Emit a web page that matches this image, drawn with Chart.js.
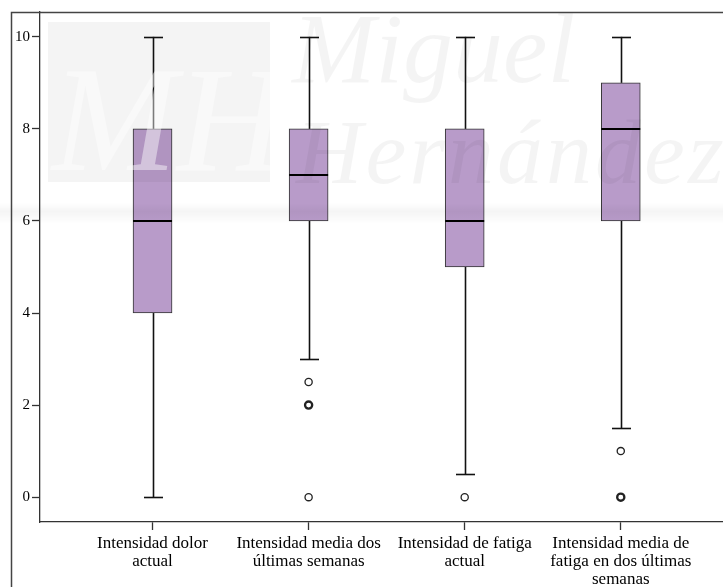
<!DOCTYPE html>
<html>
<head>
<meta charset="utf-8">
<script src="https://cdn.jsdelivr.net/npm/chart.js@4/dist/chart.umd.min.js"></script>
<style>
  html, body { margin: 0; padding: 0; background: #fff; }
  #wrap { width: 723px; height: 587px; position: relative; }
</style>
</head>
<body>
<div id="wrap"><canvas id="c" width="723" height="587"></canvas></div>
<script>
// Category labels (multi-line)
const categories = [
  ["Intensidad dolor", "actual"],
  ["Intensidad media dos", "últimas semanas"],
  ["Intensidad de fatiga", "actual"],
  ["Intensidad media de", "fatiga en dos últimas", "semanas"]
];
// Five-number summaries per variable
const whiskerLow  = [0, 3, 0.5, 1.5];
const q1          = [4, 6, 5, 6];
const median      = [6, 7, 6, 8];
const q3          = [8, 8, 8, 9];
const whiskerHigh = [10, 10, 10, 10];
// Outliers: category index, value, repeated case
const outlierCat   = [1, 1, 1, 2, 3, 3];
const outlierValue = [2.5, 2, 0, 0, 1, 0];
const outlierMulti = [false, true, false, false, false, true];
// Y axis ticks
const yTicks = [0, 2, 4, 6, 8, 10];

const serif = "'Liberation Serif', 'DejaVu Serif', serif";

const boxData = categories.map((_, i) => ({ x: i, y: [q1[i], q3[i]] }));
const outlierData = outlierCat.map((c, i) => ({ x: c, y: outlierValue[i] }));

// Whiskers and caps behind the boxes, medians on top
const whiskerPlugin = {
  id: 'whiskers',
  beforeDatasetsDraw(chart) {
    const { ctx, scales: { x, y } } = chart;
    ctx.save();
    ctx.strokeStyle = '#111';
    ctx.lineWidth = 1.6;
    categories.forEach((_, i) => {
      const cx = Math.round(x.getPixelForValue(i)) + 0.5;
      const capHalf = 9.5;
      [[whiskerLow[i], q1[i]], [q3[i], whiskerHigh[i]]].forEach(([a, b]) => {
        ctx.beginPath();
        ctx.moveTo(cx, y.getPixelForValue(a));
        ctx.lineTo(cx, y.getPixelForValue(b));
        ctx.stroke();
      });
      [whiskerLow[i], whiskerHigh[i]].forEach(v => {
        const py = Math.round(y.getPixelForValue(v)) + 0.5;
        ctx.beginPath();
        ctx.moveTo(cx - capHalf, py);
        ctx.lineTo(cx + capHalf, py);
        ctx.stroke();
      });
    });
    ctx.restore();
  },
  afterDatasetsDraw(chart) {
    const { ctx, scales: { x, y } } = chart;
    ctx.save();
    ctx.strokeStyle = '#000';
    ctx.lineWidth = 2.2;
    categories.forEach((_, i) => {
      const cx = x.getPixelForValue(i);
      const py = Math.round(y.getPixelForValue(median[i]));
      ctx.beginPath();
      ctx.moveTo(cx - 19.5, py);
      ctx.lineTo(cx + 19.5, py);
      ctx.stroke();
    });
    ctx.restore();
  }
};

// Background watermark and frame lines
const decorPlugin = {
  id: 'decor',
  afterDraw(chart) {
    const { ctx } = chart;
    ctx.save();
    // light horizontal band
    const g = ctx.createLinearGradient(0, 203, 0, 224);
    g.addColorStop(0, 'rgba(0,0,0,0)');
    g.addColorStop(0.4, 'rgba(0,0,0,0.04)');
    g.addColorStop(1, 'rgba(0,0,0,0)');
    ctx.fillStyle = g;
    ctx.fillRect(0, 203, 723, 21);
    // logo block
    ctx.fillStyle = 'rgba(0,0,0,0.045)';
    ctx.fillRect(48, 22, 222, 160);
    ctx.font = "italic 150px " + serif;
    ctx.fillStyle = 'rgba(255,255,255,0.45)';
    ctx.textBaseline = 'alphabetic';
    ctx.fillText('MH', 52, 170);
    // wordmark
    ctx.fillStyle = 'rgba(0,0,0,0.045)';
    ctx.font = "italic 100px " + serif;
    ctx.fillText('Miguel', 292, 82);
    ctx.font = "italic 92px " + serif;
    ctx.letterSpacing = '3px';
    ctx.fillText('Hernández', 296, 183);
    ctx.letterSpacing = '0px';
    // frame
    ctx.strokeStyle = '#444';
    ctx.lineWidth = 1.5;
    ctx.beginPath();
    ctx.moveTo(11.5, 587);
    ctx.lineTo(11.5, 12.5);
    ctx.lineTo(723, 12.5);
    ctx.stroke();
    ctx.restore();
  }
};

new Chart(document.getElementById('c'), {
  data: {
    datasets: [
      {
        type: 'bar',
        data: boxData,
        backgroundColor: '#b89bc9',
        borderColor: '#333',
        borderWidth: 1,
        borderSkipped: false,
        barThickness: 39
      },
      {
        type: 'scatter',
        data: outlierData,
        pointStyle: 'circle',
        pointRadius: 3.6,
        backgroundColor: '#fff',
        borderColor: '#222',
        pointBorderWidth: outlierMulti.map(m => m ? 2.3 : 1.3)
      }
    ]
  },
  options: {
    responsive: false,
    animation: false,
    devicePixelRatio: 1,
    layout: { autoPadding: false, padding: { top: 12, left: 0, right: 0, bottom: 0 } },
    plugins: { legend: { display: false }, tooltip: { enabled: false } },
    scales: {
      x: {
        type: 'linear',
        offset: false,
        min: -0.721,
        max: 3.655,
        afterBuildTicks(s) { s.ticks = categories.map((_, i) => ({ value: i })); },
        afterFit(s) { s.height = 65; s.paddingLeft = 0; s.paddingRight = 0; },
        ticks: {
          callback: v => categories[v],
          autoSkip: false,
          maxRotation: 0,
          color: '#000',
          padding: 5,
          font: { family: serif, size: 17, lineHeight: '18px' }
        },
        grid: { offset: false, drawOnChartArea: false, tickLength: 8, color: '#333', tickWidth: 1.3 },
        border: { color: '#333', width: 1.3 }
      },
      y: {
        type: 'linear',
        min: -0.54,
        max: 10.54,
        afterBuildTicks(s) { s.ticks = yTicks.map(v => ({ value: v })); },
        afterFit(s) { s.width = 40; s.paddingTop = 0; s.paddingBottom = 0; },
        ticks: {
          color: '#000',
          padding: 2,
          font: { family: serif, size: 15 }
        },
        grid: { drawOnChartArea: false, tickLength: 8, color: '#333', tickWidth: 1.3 },
        border: { color: '#333', width: 1.3 }
      }
    }
  },
  plugins: [whiskerPlugin, decorPlugin]
});
</script>
</body>
</html>
